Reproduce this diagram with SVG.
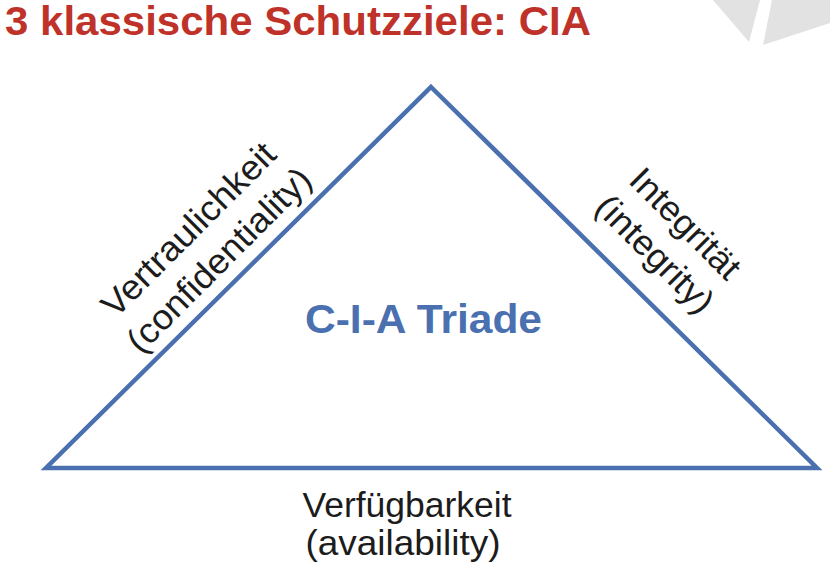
<svg xmlns="http://www.w3.org/2000/svg" width="830" height="576" viewBox="0 0 830 576">
<style>
.title{font-family:"Liberation Sans",Arial,sans-serif;font-weight:bold;font-size:40px;fill:#bf3229}
.lbl{font-family:"Liberation Sans",Arial,sans-serif;font-size:35px;fill:#1c1c1c;text-anchor:middle}
.center{font-family:"Liberation Sans",Arial,sans-serif;font-weight:bold;font-size:40px;fill:#4a70b0}
.edge{fill:none;stroke:#4a70b0;stroke-width:4.5;stroke-linejoin:miter}
</style>
<rect width="830" height="576" fill="#ffffff"/>
<g id="logo" fill="#e2e2e2">
<polygon points="713,0 760,0 749,42"/>
<polygon points="772,0 830,0 830,23 763,45"/>
</g>
<text class="title" x="5" y="35" textLength="586" lengthAdjust="spacingAndGlyphs">3 klassische Schutzziele: CIA</text>
<g id="connectors">
<polygon class="edge" points="431,87 817,468 46,468"/>
</g>
<g id="node-center">
<text class="center" x="305" y="333" textLength="237" lengthAdjust="spacingAndGlyphs">C-I-A Triade</text>
</g>
<g id="node-confidentiality" transform="translate(204,245) rotate(-45)">
<text class="lbl" x="0" y="-10" textLength="230" lengthAdjust="spacingAndGlyphs">Vertraulichkeit</text>
<text class="lbl" x="0" y="33" textLength="245" lengthAdjust="spacingAndGlyphs">(confidentiality)</text>
</g>
<g id="node-integrity" transform="translate(670,239) rotate(45)">
<text class="lbl" x="0" y="-10" textLength="141" lengthAdjust="spacingAndGlyphs">Integrität</text>
<text class="lbl" x="0" y="33" textLength="151" lengthAdjust="spacingAndGlyphs">(integrity)</text>
</g>
<g id="node-availability">
<text class="lbl" x="407" y="517" textLength="209" lengthAdjust="spacingAndGlyphs">Verfügbarkeit</text>
<text class="lbl" x="403" y="555" textLength="195" lengthAdjust="spacingAndGlyphs">(availability)</text>
</g>
</svg>
